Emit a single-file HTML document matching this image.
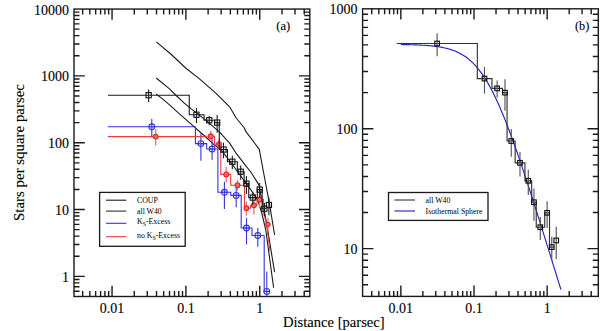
<!DOCTYPE html>
<html><head><meta charset="utf-8"><style>
html,body{margin:0;padding:0;background:#fff;}
body{width:600px;height:331px;overflow:hidden;font-family:"Liberation Serif",serif;}
svg{display:block;}
</style></head><body>
<svg width="600" height="331" viewBox="0 0 600 331">
<defs><clipPath id="cl"><rect x="74" y="9.05" width="235.8" height="287.45"/></clipPath>
<clipPath id="cr"><rect x="362.6" y="8.8" width="235.7" height="287.6"/></clipPath></defs>
<rect width="600" height="331" fill="#fff"/>
<g clip-path="url(#cl)">
<polyline points="156.3,41.9 170.8,54 186.2,68.5 198,77.6 201.8,80.9 216.3,93.6 229.9,107.2 236.2,118 244.4,128 245.6,131.2 259.3,149.3 263.1,170 266.3,187 269.5,203.8 274.6,235" fill="none" stroke="#1a1a1a" stroke-width="1.1" stroke-linejoin="round"/>
<polyline points="156.2,78 169.5,88.9 175.6,95 184,102.8 191.3,108.9 205.7,120.1 219.6,132.2 229.6,143.1 236.4,153.7 244.7,164.3 250.8,172 258.9,184.9 261,196 264.2,209.8 267.7,230 274.6,272.2" fill="none" stroke="#1a1a1a" stroke-width="1.1" stroke-linejoin="round"/>
<polyline points="156.2,94.3 162.3,98.6 170.7,105.8 178.6,113.1 190,123.1 205.7,137 214.2,144.9 221.5,150.3 231.2,163 240.2,175.3 246.2,183.4 253.9,194.3 258,201 261.5,212 265.8,230 273.6,287.8" fill="none" stroke="#1a1a1a" stroke-width="1.1" stroke-linejoin="round"/>
<path d="M107.8 126.8L195.4 126.8L195.4 143.6L206.7 143.6L206.7 149L217.9 149L217.9 192.3L230.8 192.3L230.8 195.4L241.2 195.4L241.2 228L252 228L252 235.5L264.2 235.5" fill="none" stroke="#3434dc" stroke-width="1.1"/>
<path d="M264.2 235.5V291.4" fill="none" stroke="#3434dc" stroke-width="1.1"/>
<path d="M151.8 118.9V137.5M200.9 133.6V160.8M212.1 138.2V159.9M224.4 181.8V209M236.2 184.5V207.2M246.5 218V244.6M257.8 228V246.8M266.8 271.5V300" fill="none" stroke="#3434dc" stroke-width="1.1"/>
<circle cx="151.8" cy="126.8" r="2.9" fill="none" stroke="#3434dc" stroke-width="1.1"/>
<path d="M148.9 126.8h5.8" stroke="#3434dc" stroke-width="1.1"/>
<circle cx="200.9" cy="143.6" r="2.9" fill="none" stroke="#3434dc" stroke-width="1.1"/>
<path d="M198 143.6h5.8" stroke="#3434dc" stroke-width="1.1"/>
<circle cx="212.1" cy="149" r="2.9" fill="none" stroke="#3434dc" stroke-width="1.1"/>
<path d="M209.2 149h5.8" stroke="#3434dc" stroke-width="1.1"/>
<circle cx="224.4" cy="192.3" r="2.9" fill="none" stroke="#3434dc" stroke-width="1.1"/>
<path d="M221.5 192.3h5.8" stroke="#3434dc" stroke-width="1.1"/>
<circle cx="236.2" cy="195.4" r="2.9" fill="none" stroke="#3434dc" stroke-width="1.1"/>
<path d="M233.3 195.4h5.8" stroke="#3434dc" stroke-width="1.1"/>
<circle cx="246.5" cy="228" r="2.9" fill="none" stroke="#3434dc" stroke-width="1.1"/>
<path d="M243.6 228h5.8" stroke="#3434dc" stroke-width="1.1"/>
<circle cx="257.8" cy="235.5" r="2.9" fill="none" stroke="#3434dc" stroke-width="1.1"/>
<path d="M254.9 235.5h5.8" stroke="#3434dc" stroke-width="1.1"/>
<circle cx="266.8" cy="291.4" r="2.9" fill="none" stroke="#3434dc" stroke-width="1.1"/>
<path d="M263.9 291.4h5.8" stroke="#3434dc" stroke-width="1.1"/>
<path d="M107.8 136.6L203.6 136.6L203.6 136.3L214.5 136.3L214.5 144.1L220.8 144.1L220.8 174.4L230.7 174.4L230.7 185.2L244.5 185.2L244.5 208.3L250.5 208.3L250.5 205.2L257 205.2L257 199.5L263.5 199.5L263.5 212L266.5 224.3L270 251" fill="none" stroke="#ee3c3c" stroke-width="1.1"/>
<path d="M155.7 129.3V145.6M210.8 131V140.9M219 139V149.5M226.2 167.1V182.5M237.5 179.8V190.5M246.4 201.5V215.8M253.9 199.5V214.5M259.6 193V207M268 218V231" fill="none" stroke="#ec7a7a" stroke-width="1.4"/>
<circle cx="155.7" cy="136.6" r="2.4" fill="#f06a6a" stroke="#e02424" stroke-width="1.1"/>
<circle cx="210.8" cy="136.3" r="2.4" fill="#f06a6a" stroke="#e02424" stroke-width="1.1"/>
<circle cx="219" cy="144.1" r="2.4" fill="#f06a6a" stroke="#e02424" stroke-width="1.1"/>
<circle cx="226.2" cy="174.4" r="2.4" fill="#f06a6a" stroke="#e02424" stroke-width="1.1"/>
<circle cx="237.5" cy="185.2" r="2.4" fill="#f06a6a" stroke="#e02424" stroke-width="1.1"/>
<circle cx="246.4" cy="208.3" r="2.4" fill="#f06a6a" stroke="#e02424" stroke-width="1.1"/>
<circle cx="253.9" cy="205.2" r="2.4" fill="#f06a6a" stroke="#e02424" stroke-width="1.1"/>
<circle cx="259.6" cy="199.5" r="2.4" fill="#f06a6a" stroke="#e02424" stroke-width="1.1"/>
<circle cx="268" cy="224.3" r="2.1" fill="#f06a6a" stroke="#e02424" stroke-width="1.1"/>
<path d="M107.95 95.2L189.25 95.2L189.25 114.76L204.03 114.76L204.03 120.23L214.64 120.23L214.64 122.6L219.26 122.6L219.26 149.56L227.43 149.56L227.43 161.7L237.33 161.7L237.33 171.73L244.11 171.73L244.11 183.66L248.72 183.66L248.72 197.59L257.28 197.59L257.28 189.58L262.13 189.58L262.13 208.69L266.65 208.69" fill="none" stroke="#1a1a1a" stroke-width="1.1"/>
<path d="M148.65 89.48V102.33M196.46 108.33V123.04M209.23 115.89V125.33M217.16 115.09V132.74M223.5 142.86V158.28M232.31 155.67V169.31M240.69 165.51V179.66M246.42 176.06V193.98M252.79 191.85V204.74M259.72 183.07V197.97M264.4 202.84V216.03M268.9 197.4V215.31" fill="none" stroke="#1a1a1a" stroke-width="1.1"/>
<rect x="146.05" y="92.6" width="5.2" height="5.2" fill="none" stroke="#111" stroke-width="1.1"/>
<rect x="193.86" y="112.16" width="5.2" height="5.2" fill="none" stroke="#111" stroke-width="1.1"/>
<rect x="206.63" y="117.63" width="5.2" height="5.2" fill="none" stroke="#111" stroke-width="1.1"/>
<rect x="214.56" y="120" width="5.2" height="5.2" fill="none" stroke="#111" stroke-width="1.1"/>
<rect x="220.9" y="146.96" width="5.2" height="5.2" fill="none" stroke="#111" stroke-width="1.1"/>
<rect x="229.71" y="159.1" width="5.2" height="5.2" fill="none" stroke="#111" stroke-width="1.1"/>
<rect x="238.09" y="169.13" width="5.2" height="5.2" fill="none" stroke="#111" stroke-width="1.1"/>
<rect x="243.82" y="181.06" width="5.2" height="5.2" fill="none" stroke="#111" stroke-width="1.1"/>
<rect x="250.19" y="194.99" width="5.2" height="5.2" fill="none" stroke="#111" stroke-width="1.1"/>
<rect x="257.12" y="186.98" width="5.2" height="5.2" fill="none" stroke="#111" stroke-width="1.1"/>
<rect x="261.8" y="206.09" width="5.2" height="5.2" fill="none" stroke="#111" stroke-width="1.1"/>
<rect x="266.3" y="202.39" width="5.2" height="5.2" fill="none" stroke="#111" stroke-width="1.1"/>
</g>
<g clip-path="url(#cr)">
<polyline points="400.85,44.52 402.19,44.54 403.52,44.57 404.85,44.59 406.19,44.62 407.52,44.65 408.85,44.68 410.19,44.72 411.52,44.75 412.85,44.79 414.19,44.84 415.52,44.89 416.86,44.94 418.19,45 419.52,45.06 420.86,45.13 422.19,45.2 423.52,45.28 424.86,45.36 426.19,45.46 427.52,45.56 428.86,45.67 430.19,45.79 431.52,45.92 432.86,46.06 434.19,46.21 435.53,46.38 436.86,46.56 438.19,46.75 439.53,46.96 440.86,47.19 442.19,47.44 443.53,47.71 444.86,48 446.19,48.31 447.53,48.65 448.86,49.01 450.2,49.41 451.53,49.83 452.86,50.29 454.2,50.79 455.53,51.32 456.86,51.89 458.2,52.51 459.53,53.17 460.86,53.88 462.2,54.64 463.53,55.46 464.86,56.33 466.2,57.26 467.53,58.26 468.87,59.32 470.2,60.46 471.53,61.66 472.87,62.94 474.2,64.29 475.53,65.73 476.87,67.25 478.2,68.85 479.53,70.53 480.87,72.31 482.2,74.17 483.54,76.13 484.87,78.17 486.2,80.31 487.54,82.54 488.87,84.86 490.2,87.27 491.54,89.77 492.87,92.37 494.2,95.04 495.54,97.81 496.87,100.66 498.2,103.59 499.54,106.6 500.87,109.69 502.21,112.86 503.54,116.09 504.87,119.4 506.21,122.77 507.54,126.2 508.87,129.7 510.21,133.25 511.54,136.86 512.87,140.52 514.21,144.23 515.54,147.98 516.88,151.78 518.21,155.61 519.54,159.49 520.88,163.4 522.21,167.35 523.54,171.32 524.88,175.33 526.21,179.36 527.54,183.42 528.88,187.5 530.21,191.6 531.54,195.73 532.88,199.87 534.21,204.03 535.55,208.21 536.88,212.4 538.21,216.61 539.55,220.83 540.88,225.06 542.21,229.3 543.55,233.55 544.88,237.81 546.21,242.08 547.55,246.36 548.88,250.65 550.22,254.94 551.55,259.24 552.88,263.55 554.22,267.86 555.55,272.17 556.88,276.49 558.22,280.81 559.55,285.14 560.88,289.47" fill="none" stroke="#2222c8" stroke-width="1.15" stroke-linejoin="round"/>
<path d="M396.79 43.47L477.32 43.47L477.32 78.57L491.97 78.57L491.97 88.38L502.48 88.38L502.48 92.63L507.06 92.63L507.06 141.01L515.14 141.01L515.14 162.8L524.95 162.8L524.95 180.81L531.67 180.81L531.67 202.21L536.24 202.21L536.24 227.21L544.72 227.21L544.72 212.83L549.52 212.83L549.52 247.13L554 247.13" fill="none" stroke="#333" stroke-width="1.15"/>
<path d="M437.1 33.2V56.27M484.47 67.02V93.42M497.12 80.59V97.54M504.97 79.17V110.84M511.26 129V156.66M519.98 151.98V176.46M528.29 169.64V195.04M533.96 188.58V220.73M540.27 216.91V240.05M547.13 201.15V227.9M551.77 236.63V260.3M556.23 226.86V259.01" fill="none" stroke="#555" stroke-width="1.15"/>
<rect x="434.8" y="41.17" width="4.6" height="4.6" fill="none" stroke="#111" stroke-width="1.15"/>
<rect x="482.17" y="76.27" width="4.6" height="4.6" fill="none" stroke="#111" stroke-width="1.15"/>
<rect x="494.82" y="86.08" width="4.6" height="4.6" fill="none" stroke="#111" stroke-width="1.15"/>
<rect x="502.67" y="90.33" width="4.6" height="4.6" fill="none" stroke="#111" stroke-width="1.15"/>
<rect x="508.96" y="138.71" width="4.6" height="4.6" fill="none" stroke="#111" stroke-width="1.15"/>
<rect x="517.68" y="160.5" width="4.6" height="4.6" fill="none" stroke="#111" stroke-width="1.15"/>
<rect x="525.99" y="178.51" width="4.6" height="4.6" fill="none" stroke="#111" stroke-width="1.15"/>
<rect x="531.66" y="199.91" width="4.6" height="4.6" fill="none" stroke="#111" stroke-width="1.15"/>
<rect x="537.97" y="224.91" width="4.6" height="4.6" fill="none" stroke="#111" stroke-width="1.15"/>
<rect x="544.83" y="210.53" width="4.6" height="4.6" fill="none" stroke="#111" stroke-width="1.15"/>
<rect x="549.47" y="244.83" width="4.6" height="4.6" fill="none" stroke="#111" stroke-width="1.15"/>
<rect x="553.93" y="238.19" width="4.6" height="4.6" fill="none" stroke="#111" stroke-width="1.15"/>
</g>
<rect x="99.6" y="192.4" width="85.6" height="53.9" fill="#fff" stroke="#1a1a1a" stroke-width="1.3"/>
<path d="M106 200.2H126.4" stroke="#1a1a1a" stroke-width="1.1"/>
<path d="M106 211.1H126.4" stroke="#333" stroke-width="1.1"/>
<path d="M106 223.3H126.4" stroke="#3434dc" stroke-width="1.1"/>
<path d="M106 236.7H126.4" stroke="#ee3c3c" stroke-width="1.1"/>
<text x="137" y="203.3" font-family="Liberation Serif, serif" font-size="7.8" fill="#000">COUP</text>
<text x="137" y="213.5" font-family="Liberation Serif, serif" font-size="7.8" fill="#000">all W40</text>
<text x="137" y="223.9" font-family="Liberation Serif, serif" font-size="7.8" fill="#000">K<tspan font-size="6" dy="2.4">S</tspan><tspan dy="-2.4">-Excess</tspan></text>
<text x="137" y="237.6" font-family="Liberation Serif, serif" font-size="7.8" fill="#000">no K<tspan font-size="6" dy="2.4">S</tspan><tspan dy="-2.4">-Excess</tspan></text>
<rect x="388.5" y="192.5" width="99.5" height="27.9" fill="#fff" stroke="#1a1a1a" stroke-width="1.3"/>
<path d="M394.4 200H415" stroke="#333" stroke-width="1.1"/>
<path d="M394.4 211H415" stroke="#2020c0" stroke-width="1.1"/>
<text x="425.6" y="203" font-family="Liberation Serif, serif" font-size="7.8" fill="#000">all W40</text>
<text x="425.6" y="214" font-family="Liberation Serif, serif" font-size="7.8" fill="#000">Isothermal Sphere</text>
<rect x="74" y="9.05" width="235.8" height="287.45" fill="none" stroke="#1a1a1a" stroke-width="1.4"/>
<path d="M82.66 296.5v-5.5M82.66 9.05v5.5M89.82 296.5v-5.5M89.82 9.05v5.5M95.67 296.5v-5.5M95.67 9.05v5.5M100.61 296.5v-5.5M100.61 9.05v5.5M104.89 296.5v-5.5M104.89 9.05v5.5M108.67 296.5v-5.5M108.67 9.05v5.5M112.05 296.5v-10.8M112.05 9.05v10.8M134.28 296.5v-5.5M134.28 9.05v5.5M147.29 296.5v-5.5M147.29 9.05v5.5M156.51 296.5v-5.5M156.51 9.05v5.5M163.67 296.5v-5.5M163.67 9.05v5.5M169.52 296.5v-5.5M169.52 9.05v5.5M174.46 296.5v-5.5M174.46 9.05v5.5M178.74 296.5v-5.5M178.74 9.05v5.5M182.52 296.5v-5.5M182.52 9.05v5.5M185.9 296.5v-10.8M185.9 9.05v10.8M208.13 296.5v-5.5M208.13 9.05v5.5M221.14 296.5v-5.5M221.14 9.05v5.5M230.36 296.5v-5.5M230.36 9.05v5.5M237.52 296.5v-5.5M237.52 9.05v5.5M243.37 296.5v-5.5M243.37 9.05v5.5M248.31 296.5v-5.5M248.31 9.05v5.5M252.59 296.5v-5.5M252.59 9.05v5.5M256.37 296.5v-5.5M256.37 9.05v5.5M259.75 296.5v-10.8M259.75 9.05v10.8M281.98 296.5v-5.5M281.98 9.05v5.5M294.99 296.5v-5.5M294.99 9.05v5.5M304.21 296.5v-5.5M304.21 9.05v5.5M74 291.21h5.5M309.8 291.21h-5.5M74 286.73h5.5M309.8 286.73h-5.5M74 282.86h5.5M309.8 282.86h-5.5M74 279.44h5.5M309.8 279.44h-5.5M74 276.38h10.8M309.8 276.38h-10.8M74 256.26h5.5M309.8 256.26h-5.5M74 244.49h5.5M309.8 244.49h-5.5M74 236.14h5.5M309.8 236.14h-5.5M74 229.67h5.5M309.8 229.67h-5.5M74 224.38h5.5M309.8 224.38h-5.5M74 219.9h5.5M309.8 219.9h-5.5M74 216.03h5.5M309.8 216.03h-5.5M74 212.61h5.5M309.8 212.61h-5.5M74 209.55h10.8M309.8 209.55h-10.8M74 189.43h5.5M309.8 189.43h-5.5M74 177.66h5.5M309.8 177.66h-5.5M74 169.31h5.5M309.8 169.31h-5.5M74 162.83h5.5M309.8 162.83h-5.5M74 157.54h5.5M309.8 157.54h-5.5M74 153.07h5.5M309.8 153.07h-5.5M74 149.19h5.5M309.8 149.19h-5.5M74 145.77h5.5M309.8 145.77h-5.5M74 142.72h10.8M309.8 142.72h-10.8M74 122.6h5.5M309.8 122.6h-5.5M74 110.83h5.5M309.8 110.83h-5.5M74 102.48h5.5M309.8 102.48h-5.5M74 96h5.5M309.8 96h-5.5M74 90.71h5.5M309.8 90.71h-5.5M74 86.24h5.5M309.8 86.24h-5.5M74 82.36h5.5M309.8 82.36h-5.5M74 78.94h5.5M309.8 78.94h-5.5M74 75.88h10.8M309.8 75.88h-10.8M74 55.76h5.5M309.8 55.76h-5.5M74 44h5.5M309.8 44h-5.5M74 35.65h5.5M309.8 35.65h-5.5M74 29.17h5.5M309.8 29.17h-5.5M74 23.88h5.5M309.8 23.88h-5.5M74 19.4h5.5M309.8 19.4h-5.5M74 15.53h5.5M309.8 15.53h-5.5M74 12.11h5.5M309.8 12.11h-5.5" fill="none" stroke="#1a1a1a" stroke-width="1.4"/>
<rect x="362.6" y="8.8" width="235.7" height="287.6" fill="none" stroke="#1a1a1a" stroke-width="1.4"/>
<path d="M371.74 296.4v-5.5M371.74 8.8v5.5M378.83 296.4v-5.5M378.83 8.8v5.5M384.62 296.4v-5.5M384.62 8.8v5.5M389.52 296.4v-5.5M389.52 8.8v5.5M393.76 296.4v-5.5M393.76 8.8v5.5M397.5 296.4v-5.5M397.5 8.8v5.5M400.85 296.4v-10.8M400.85 8.8v10.8M422.87 296.4v-5.5M422.87 8.8v5.5M435.76 296.4v-5.5M435.76 8.8v5.5M444.9 296.4v-5.5M444.9 8.8v5.5M451.99 296.4v-5.5M451.99 8.8v5.5M457.78 296.4v-5.5M457.78 8.8v5.5M462.68 296.4v-5.5M462.68 8.8v5.5M466.92 296.4v-5.5M466.92 8.8v5.5M470.66 296.4v-5.5M470.66 8.8v5.5M474.01 296.4v-10.8M474.01 8.8v10.8M496.03 296.4v-5.5M496.03 8.8v5.5M508.91 296.4v-5.5M508.91 8.8v5.5M518.05 296.4v-5.5M518.05 8.8v5.5M525.14 296.4v-5.5M525.14 8.8v5.5M530.94 296.4v-5.5M530.94 8.8v5.5M535.83 296.4v-5.5M535.83 8.8v5.5M540.08 296.4v-5.5M540.08 8.8v5.5M543.82 296.4v-5.5M543.82 8.8v5.5M547.17 296.4v-10.8M547.17 8.8v10.8M569.19 296.4v-5.5M569.19 8.8v5.5M582.07 296.4v-5.5M582.07 8.8v5.5M591.21 296.4v-5.5M591.21 8.8v5.5M362.6 284.78h5.5M598.3 284.78h-5.5M362.6 275.28h5.5M598.3 275.28h-5.5M362.6 267.25h5.5M598.3 267.25h-5.5M362.6 260.3h5.5M598.3 260.3h-5.5M362.6 254.16h5.5M598.3 254.16h-5.5M362.6 248.67h10.8M598.3 248.67h-10.8M362.6 212.57h5.5M598.3 212.57h-5.5M362.6 191.45h5.5M598.3 191.45h-5.5M362.6 176.46h5.5M598.3 176.46h-5.5M362.6 164.84h5.5M598.3 164.84h-5.5M362.6 155.34h5.5M598.3 155.34h-5.5M362.6 147.31h5.5M598.3 147.31h-5.5M362.6 140.36h5.5M598.3 140.36h-5.5M362.6 134.22h5.5M598.3 134.22h-5.5M362.6 128.74h10.8M598.3 128.74h-10.8M362.6 92.63h5.5M598.3 92.63h-5.5M362.6 71.51h5.5M598.3 71.51h-5.5M362.6 56.53h5.5M598.3 56.53h-5.5M362.6 44.9h5.5M598.3 44.9h-5.5M362.6 35.41h5.5M598.3 35.41h-5.5M362.6 27.38h5.5M598.3 27.38h-5.5M362.6 20.42h5.5M598.3 20.42h-5.5M362.6 14.29h5.5M598.3 14.29h-5.5" fill="none" stroke="#1a1a1a" stroke-width="1.4"/>
<text x="112.05" y="312.7" font-size="14" text-anchor="middle" font-family="Liberation Serif, serif" fill="#000" stroke="#000" stroke-width="0.1">0.01</text>
<text x="185.9" y="312.7" font-size="14" text-anchor="middle" font-family="Liberation Serif, serif" fill="#000" stroke="#000" stroke-width="0.1">0.1</text>
<text x="259.75" y="312.7" font-size="14" text-anchor="middle" font-family="Liberation Serif, serif" fill="#000" stroke="#000" stroke-width="0.1">1</text>
<text x="400.85" y="312.6" font-size="14" text-anchor="middle" font-family="Liberation Serif, serif" fill="#000" stroke="#000" stroke-width="0.1">0.01</text>
<text x="474.01" y="312.6" font-size="14" text-anchor="middle" font-family="Liberation Serif, serif" fill="#000" stroke="#000" stroke-width="0.1">0.1</text>
<text x="547.17" y="312.6" font-size="14" text-anchor="middle" font-family="Liberation Serif, serif" fill="#000" stroke="#000" stroke-width="0.1">1</text>
<text x="69" y="281.88" font-size="14" text-anchor="end" font-family="Liberation Serif, serif" fill="#000" stroke="#000" stroke-width="0.1">1</text>
<text x="69" y="215.05" font-size="14" text-anchor="end" font-family="Liberation Serif, serif" fill="#000" stroke="#000" stroke-width="0.1">10</text>
<text x="69" y="148.22" font-size="14" text-anchor="end" font-family="Liberation Serif, serif" fill="#000" stroke="#000" stroke-width="0.1">100</text>
<text x="69" y="81.38" font-size="14" text-anchor="end" font-family="Liberation Serif, serif" fill="#000" stroke="#000" stroke-width="0.1">1000</text>
<text x="69" y="14.55" font-size="14" text-anchor="end" font-family="Liberation Serif, serif" fill="#000" stroke="#000" stroke-width="0.1">10000</text>
<text x="357.6" y="254.17" font-size="14" text-anchor="end" font-family="Liberation Serif, serif" fill="#000" stroke="#000" stroke-width="0.1">10</text>
<text x="357.6" y="134.24" font-size="14" text-anchor="end" font-family="Liberation Serif, serif" fill="#000" stroke="#000" stroke-width="0.1">100</text>
<text x="357.6" y="14.3" font-size="14" text-anchor="end" font-family="Liberation Serif, serif" fill="#000" stroke="#000" stroke-width="0.1">1000</text>
<text x="333.8" y="327.3" font-size="14.6" text-anchor="middle" font-family="Liberation Serif, serif" fill="#000" stroke="#000" stroke-width="0.1">Distance [parsec]</text>
<text transform="translate(24.3 152.5) rotate(-90)" font-size="14.9" text-anchor="middle" font-family="Liberation Serif, serif" fill="#000" stroke="#000" stroke-width="0.1">Stars per square parsec</text>
<text x="283.3" y="29.8" font-size="12.6" text-anchor="middle" font-family="Liberation Serif, serif" fill="#000" stroke="#000" stroke-width="0.1">(a)</text>
<text x="582.2" y="29.8" font-size="12.3" text-anchor="middle" font-family="Liberation Serif, serif" fill="#000" stroke="#000" stroke-width="0.1">(b)</text>
</svg>
</body></html>
